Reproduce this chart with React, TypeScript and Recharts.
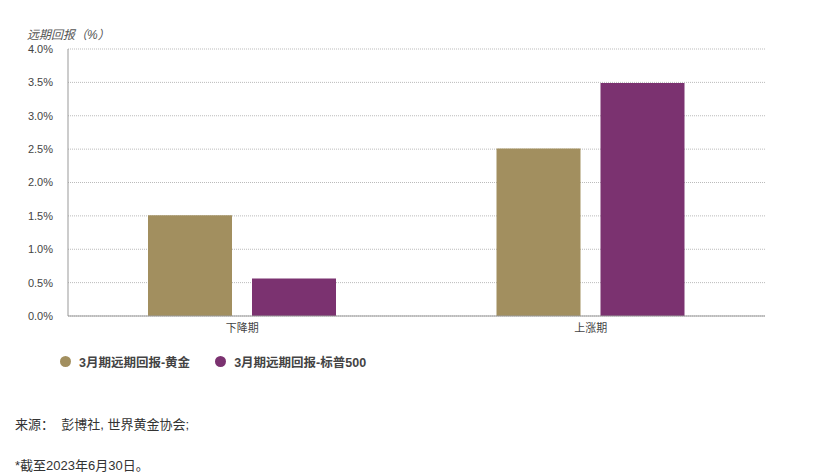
import React from 'react';
import { BarChart, Bar, XAxis, YAxis, CartesianGrid } from 'recharts';

const categories = ['下降期', '上涨期'];
const goldValues = [1.51, 2.51];
const spxValues = [0.56, 3.49];
const seriesNames = ['3月期远期回报-黄金', '3月期远期回报-标普500'];
const seriesColors = ['#A28F5F', '#7B3270'];
const yTicks = [0, 0.5, 1, 1.5, 2, 2.5, 3, 3.5, 4];

const data = categories.map((c, i) => ({ name: c, gold: goldValues[i], spx: spxValues[i] }));

const FONT = '"Liberation Sans", "Noto Sans CJK SC", Arial, sans-serif';

export default function App() {
  return (
    <div style={{ position: 'absolute', left: 0, top: 0, width: 820, height: 476, background: '#fff', fontFamily: FONT, overflow: 'hidden' }}>
      <div style={{ position: 'absolute', left: 27, top: 25, fontSize: 12, fontStyle: 'italic', color: '#555' }}>远期回报（%）</div>
      <div style={{ position: 'absolute', left: 0, top: 0 }}>
        <BarChart width={820} height={345} data={data} margin={{ top: 49, right: 55, bottom: 0, left: 0 }} barCategoryGap={80} barGap={20}>
          <CartesianGrid vertical={false} stroke="#bbb" strokeDasharray="1 1" />
          <XAxis dataKey="name" height={29} axisLine={{ stroke: '#999' }} tickLine={false} tickSize={0} tickMargin={8} tick={{ fontSize: 11, fill: '#444', fontFamily: FONT }} />
          <YAxis width={68} domain={[0, 4]} ticks={yTicks} interval={0} axisLine={{ stroke: '#999' }} tickLine={false} tickSize={0} tickMargin={15} tickFormatter={(v: number) => v.toFixed(1) + '%'} tick={{ fontSize: 11, fill: '#444', fontFamily: FONT }} />
          <Bar dataKey="gold" name={seriesNames[0]} fill={seriesColors[0]} isAnimationActive={false} />
          <Bar dataKey="spx" name={seriesNames[1]} fill={seriesColors[1]} isAnimationActive={false} />
        </BarChart>
      </div>
      <div style={{ position: 'absolute', left: 60, top: 352, display: 'flex', alignItems: 'center', fontSize: 12.5, fontWeight: 'bold', color: '#444' }}>
        {seriesNames.map((n, i) => (
          <div key={n} style={{ display: 'flex', alignItems: 'center', marginRight: 25 }}>
            <span style={{ width: 11, height: 11, borderRadius: '50%', background: seriesColors[i], display: 'inline-block', marginRight: 8 }} />
            <span>{n}</span>
          </div>
        ))}
      </div>
      <div style={{ position: 'absolute', left: 15, top: 414, fontSize: 13, color: '#333' }}>来源：&nbsp;&nbsp;彭博社, 世界黄金协会;</div>
      <div style={{ position: 'absolute', left: 15, top: 455, fontSize: 13, color: '#333' }}>*截至2023年6月30日。</div>
    </div>
  );
}
